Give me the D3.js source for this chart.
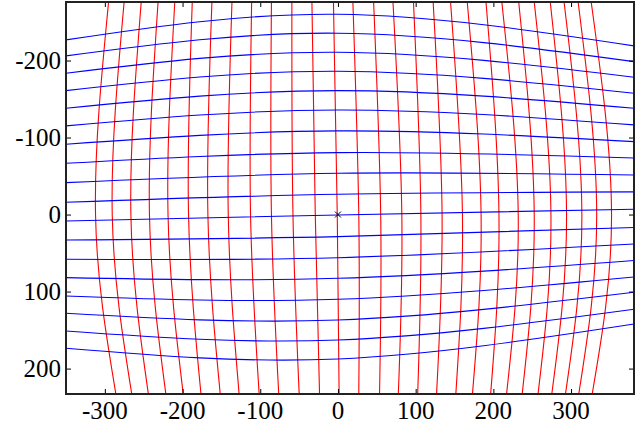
<!DOCTYPE html>
<html>
<head>
<meta charset="utf-8">
<script src="https://cdn.jsdelivr.net/npm/d3@7"></script>
<style>
  body { margin: 0; background: #fff; }
  svg { display: block; }
  .tick-label { font-family: "Liberation Serif", "Times New Roman", serif; font-size: 25px; fill: #000; }
</style>
</head>
<body>
<div id="chart"></div>
<script>
// red lines: x value read at the top edge, at y = 0 and at the bottom edge
var redY = [-276, 0, 233];
var redTop = [-295.2, -275.2, -253.2, -231.5, -210.0, -187.5, -162.2, -136.4, -111.1, -85.6,
  -59.3, -33.5, -5.8, 19.2, 45.9, 70.8, 97.2, 122.5, 144.9, 166.4,
  190.5, 210.9, 232.6, 252.6, 273.2, 291.0, 309.1, 325.9];
var redMid = [-312.0, -290.5, -266.5, -242.6, -218.7, -192.3, -167.4, -141.2, -112.5, -85.6,
  -57.9, -29.2, -0.9, 26.8, 55.0, 82.2, 106.7, 134.0, 160.2, 184.2,
  207.2, 232.0, 252.6, 274.1, 294.2, 313.9, 333.0, 352.1];
var redBot = [-285.8, -265.4, -244.0, -221.5, -199.1, -176.3, -151.5, -127.2, -101.4, -76.2,
  -49.9, -23.7, 1.5, 26.8, 53.5, 77.7, 102.6, 126.9, 151.7, 173.1,
  196.5, 217.0, 237.1, 257.5, 275.2, 292.8, 309.9, 327.2];

// blue lines: y value read at the left edge, at x = 0 and at the right edge
var blueX = [-350, 0, 381];
var blueLeft = [-226.8, -206.0, -183.5, -160.9, -138.1, -115.1, -91.3, -66.6, -41.4, -16.0,
  8.3, 33.0, 58.1, 81.9, 105.7, 128.2, 151.2, 173.6];
var blueMid = [-260.1, -235.5, -210.8, -186.1, -160.9, -135.8, -108.6, -80.4, -53.6, -26.4,
  0.5, 28.7, 56.0, 82.7, 110.0, 136.9, 162.9, 187.5];
var blueRight = [-219.0, -198.6, -178.3, -157.5, -138.1, -116.4, -94.7, -73.5, -51.4, -29.4,
  -6.9, 16.8, 38.2, 59.6, 81.0, 100.9, 123.0, 142.1];

var xTicks = [-300, -200, -100, 0, 100, 200, 300];
var yTicks = [-200, -100, 0, 100, 200];
var center = [0, 0];

var width = 641, height = 429;
var margin = { top: 2, right: 7, bottom: 35, left: 66 };

var svg = d3.select("#chart").append("svg")
  .attr("width", width)
  .attr("height", height);

var x = d3.scaleLinear().domain([-350, 381]).range([margin.left, width - margin.right]);
var y = d3.scaleLinear().domain([-276, 233]).range([margin.top, height - margin.bottom]);

svg.append("clipPath").attr("id", "plot-clip")
  .append("rect")
  .attr("x", x(-350)).attr("y", y(-276))
  .attr("width", x(381) - x(-350)).attr("height", y(233) - y(-276));

var plot = svg.append("g").attr("clip-path", "url(#plot-clip)");

var curveLine = d3.line()
  .x(function (d) { return x(d[0]); })
  .y(function (d) { return y(d[1]); })
  .curve(d3.curveNatural);

// vertical (red) curves
redTop.forEach(function (v, i) {
  var pts = [[redTop[i], redY[0]], [redMid[i], redY[1]], [redBot[i], redY[2]]];
  plot.append("path")
    .datum(pts)
    .attr("fill", "none")
    .attr("stroke", "#ff0000")
    .attr("stroke-width", 1.1)
    .attr("d", curveLine);
});

// horizontal (blue) curves
blueLeft.forEach(function (v, i) {
  var pts = [[blueX[0], blueLeft[i]], [blueX[1], blueMid[i]], [blueX[2], blueRight[i]]];
  plot.append("path")
    .datum(pts)
    .attr("fill", "none")
    .attr("stroke", "#0000ff")
    .attr("stroke-width", 1.1)
    .attr("d", curveLine);
});

// centre marker
var cx = x(center[0]), cy = y(center[1]);
svg.append("path")
  .attr("d", "M" + (cx - 3) + "," + (cy - 3) + "L" + (cx + 3) + "," + (cy + 3) +
    "M" + (cx - 3) + "," + (cy + 3) + "L" + (cx + 3) + "," + (cy - 3))
  .attr("stroke", "#000")
  .attr("stroke-width", 1);

// axes, ticks pointing inwards on all four sides
var tickLen = 5;
svg.append("g")
  .attr("transform", "translate(0," + y(233) + ")")
  .call(d3.axisBottom(x).tickValues(xTicks).tickSize(-tickLen).tickFormat(""))
  .call(function (g) { g.select(".domain").remove(); });
svg.append("g")
  .attr("transform", "translate(0," + y(-276) + ")")
  .call(d3.axisTop(x).tickValues(xTicks).tickSize(-tickLen).tickFormat(""))
  .call(function (g) { g.select(".domain").remove(); });
svg.append("g")
  .attr("transform", "translate(" + x(-350) + ",0)")
  .call(d3.axisLeft(y).tickValues(yTicks).tickSize(-tickLen).tickFormat(""))
  .call(function (g) { g.select(".domain").remove(); });
svg.append("g")
  .attr("transform", "translate(" + x(381) + ",0)")
  .call(d3.axisRight(y).tickValues(yTicks).tickSize(-tickLen).tickFormat(""))
  .call(function (g) { g.select(".domain").remove(); });

svg.selectAll(".x-label")
  .data(xTicks)
  .enter().append("text")
  .attr("class", "tick-label")
  .attr("x", function (d) { return x(d); })
  .attr("y", y(233) + 25)
  .attr("text-anchor", "middle")
  .text(function (d) { return d; });

svg.selectAll(".y-label")
  .data(yTicks)
  .enter().append("text")
  .attr("class", "tick-label")
  .attr("x", x(-350) - 5)
  .attr("y", function (d) { return y(d) + 8; })
  .attr("text-anchor", "end")
  .text(function (d) { return d; });

// frame
svg.append("rect")
  .attr("x", x(-350)).attr("y", y(-276))
  .attr("width", x(381) - x(-350)).attr("height", y(233) - y(-276))
  .attr("fill", "none")
  .attr("stroke", "#222")
  .attr("stroke-width", 2);
</script>
</body>
</html>
